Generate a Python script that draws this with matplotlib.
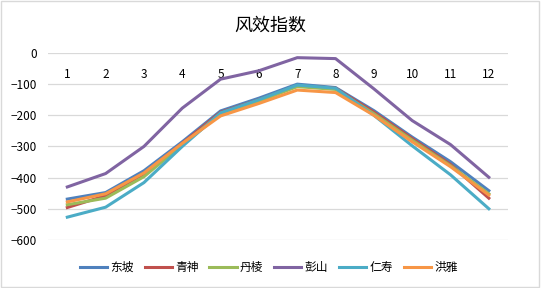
import numpy as np
import matplotlib.pyplot as plt

plt.rcParams['font.family'] = ['Noto Sans CJK SC', 'DejaVu Sans']

months = [1, 2, 3, 4, 5, 6, 7, 8, 9, 10, 11, 12]
names = ['东坡', '青神', '丹棱', '彭山', '仁寿', '洪雅']
dongpo = [-469, -448, -378, -285, -186, -145, -100, -111, -185, -270, -349, -442]
qingshen = [-496, -458, -388, -290, -190, -150, -105, -113, -190, -275, -358, -466]
danling = [-487, -466, -397, -295, -195, -155, -108, -117, -195, -280, -362, -452]
pengshan = [-430, -387, -300, -177, -84, -57, -15, -18, -115, -217, -294, -399]
renshou = [-527, -495, -416, -300, -192, -150, -103, -113, -200, -298, -391, -500]
hongya = [-478, -452, -385, -290, -202, -162, -119, -127, -200, -285, -365, -456]
series = [dongpo, qingshen, danling, pengshan, renshou, hongya]
colors = ['#4F81BD', '#C0504D', '#9BBB59', '#8064A2', '#4BACC6', '#F79646']

fig = plt.figure(figsize=(5.41, 2.88), dpi=100)
ax = fig.add_axes([0.089, 0.167, 0.85, 0.649])

x = np.arange(len(months))
for vals, name, c in zip(series, names, colors):
    ax.plot(x, vals, color=c, lw=2.2, label=name, solid_joinstyle='round')

ax.set_ylim(-600, 0)
ax.set_yticks(range(-600, 1, 100))
ax.set_xlim(-0.5, 11.5)
ax.set_xticks(x)
ax.set_xticklabels([str(m) for m in months])
ax.spines['bottom'].set_position(('data', 0))
for s in ax.spines.values():
    s.set_visible(False)
ax.grid(axis='y', color='#D9D9D9', lw=0.9)
ax.set_axisbelow(True)
ax.tick_params(axis='x', length=0, pad=11, labelsize=8.5, colors='#000000')
ax.tick_params(axis='y', length=0, pad=8, labelsize=8.5)

fig.text(0.5, 0.912, '风效指数', ha='center', va='center', fontsize=13)
fig.legend(loc='center', bbox_to_anchor=(0.497, 0.072), ncol=6, frameon=False,
           fontsize=8.5, handlelength=2.3, columnspacing=0.9, handletextpad=0.3)

fig.patches.append(plt.Rectangle((0.002, 0.003), 0.995, 0.993, transform=fig.transFigure,
                                 fill=False, edgecolor='#D9D9D9', lw=1))
fig.savefig('out.png', dpi=100)
